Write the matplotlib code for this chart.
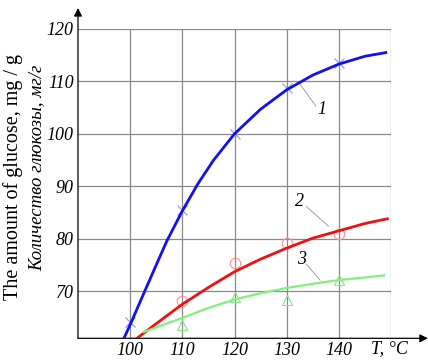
import matplotlib
matplotlib.use("Agg")
import matplotlib.pyplot as plt

# curve 1 (blue)
t1 = [98.8, 100, 102.8, 105, 107, 110, 113, 116, 120, 125, 130, 135, 140, 145, 149]
g1 = [61.0, 63.6, 70.0, 75.0, 79.5, 85.3, 90.5, 95.0, 100.0, 104.7, 108.4, 111.2, 113.3, 114.8, 115.5]
# curve 2 (red)
t2 = [101.3, 105, 110, 115, 120, 125, 130, 135, 140, 145, 149.3]
g2 = [61.0, 63.8, 67.5, 70.7, 73.7, 76.1, 78.2, 80.1, 81.5, 82.9, 83.8]
# curve 3 (green)
t3 = [102.6, 110, 115, 120, 125, 130, 135, 140, 145, 148.7]
g3 = [62.2, 64.9, 66.8, 68.4, 69.6, 70.6, 71.4, 72.1, 72.6, 73.0]

# measured points
tm = [100, 110, 120, 130, 140]
m1 = [64.1, 85.4, 100.0, 108.7, 113.5]
tm2 = [110, 120, 130, 140]
m2 = [68.1, 75.3, 79.2, 80.9]
m3 = [63.5, 68.9, 68.4, 72.1]

xticks = [100, 110, 120, 130, 140]
yticks = [70, 80, 90, 100, 110, 120]

serif = ["Liberation Serif", "DejaVu Serif"]

fig = plt.figure(figsize=(4.28, 3.62), dpi=100)
ax = fig.add_axes([78/428, 23.7/362, 313/428, 309.3/362])
ax.set_xlim(90, 150)
ax.set_ylim(61, 120)

# grid
for x in [100, 110, 120, 130, 140, 150]:
    ax.axvline(x, color="#8a8a8a", lw=0.9, zorder=1)
for y in yticks:
    ax.axhline(y, color="#8a8a8a", lw=0.9, zorder=1)

for s in ["top", "right", "left", "bottom"]:
    ax.spines[s].set_visible(False)

# axes with arrows
ax.annotate("", xy=(1.118, 0), xytext=(0, 0), xycoords="axes fraction",
            arrowprops=dict(arrowstyle="-|>", color="black", lw=0.9,
                            mutation_scale=12, shrinkA=0, shrinkB=0))
ax.annotate("", xy=(0, 1.068), xytext=(0, 0), xycoords="axes fraction",
            arrowprops=dict(arrowstyle="-|>", color="black", lw=0.9,
                            mutation_scale=12, shrinkA=0, shrinkB=0))

ax.plot(t1, g1, color="#1010f0", lw=2, zorder=3)
ax.plot(t2, g2, color="#f01010", lw=2, zorder=3)
ax.plot(t3, g3, color="#80f080", lw=1.6, zorder=3)

ax.plot(tm, m1, "x", color="#9090ff", ms=7.5, mew=0.8, zorder=2)
ax.plot(tm2, m2, "o", mfc="none", mec="#ff9090", ms=7.5, mew=0.8, zorder=2)
ax.plot(tm2, m3, "^", mfc="none", mec="#90e090", ms=7.5, mew=0.8, zorder=2)

# curve labels with leaders
ax.plot([132.4, 135.6], [109.7, 105.3], color="#a0a0a0", lw=0.7)
ax.plot([133.8, 138.0], [86.1, 82.4], color="#a0a0a0", lw=0.7)
ax.plot([133.8, 136.4], [75.1, 72.1], color="#a0a0a0", lw=0.7)
ax.text(136.8, 104.6, "1", family=serif, style="italic", fontsize=13, ha="center", va="center")
ax.text(132.4, 87.1, "2", family=serif, style="italic", fontsize=13, ha="center", va="center")
ax.text(132.9, 76.1, "3", family=serif, style="italic", fontsize=13, ha="center", va="center")

ax.set_xticks(xticks)
ax.set_yticks(yticks)
ax.tick_params(length=0, pad=3)
for lab in ax.get_xticklabels() + ax.get_yticklabels():
    lab.set_family(serif)
    lab.set_style("italic")
    lab.set_fontsize(13)

fig.text(389/428, 1 - 349/362, "T, °C", family=serif, style="italic",
         fontsize=13, ha="center", va="center")
fig.text(13/428, 1 - 177.5/362, "The amount of glucose, mg / g", family=serif,
         fontsize=14.5, rotation=90, ha="center", va="center")
fig.text(37/428, 1 - 168/362, "Количество глюкозы, мг/г", family=serif,
         style="italic", fontsize=13.5, rotation=90, ha="center", va="center")

fig.savefig("out.png", dpi=100)
